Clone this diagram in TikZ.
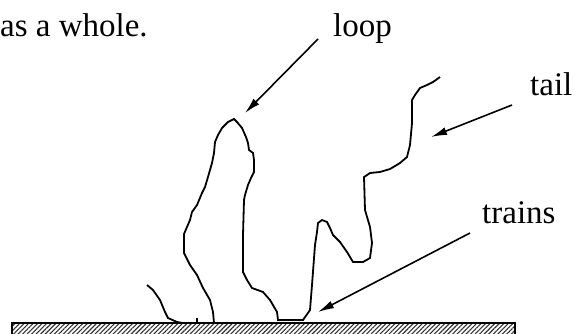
\documentclass[tikz,border=0pt]{standalone}
\usepackage{fontspec}
\setmainfont{Liberation Serif}
\usepackage{tikz}
\usetikzlibrary{arrows.meta, patterns.meta}
\tikzset{>={Latex[width=8pt,length=16pt]}}
\tikzset{
  lbl/.style = {anchor = base west, inner sep = 0pt, font = \fontsize{33}{40}\selectfont},
  chain/.style = {line width = 1.8pt, line join = miter},
  ptr/.style = {->, line width = 1.6pt}
}

\begin{document}
\begin{tikzpicture}[x = 1pt, y = -1pt]
		\useasboundingbox (0,0) rectangle (575,334);
		% labels
		\node (whole) [lbl] at (0,37) {as a whole.};
		\node (loop) [lbl] at (333,37) {loop};
		\node (tail) [lbl] at (530,96) {tail};
		\node (trains) [lbl] at (482,223) {trains};
		% arrow ends
		\coordinate (l0) at (318,39);
		\coordinate (l1) at (245,113);
		\coordinate (t0) at (512,105);
		\coordinate (t1) at (431,137);
		\coordinate (r0) at (470,233);
		\coordinate (r1) at (318,312);
		% surface
		\draw [pattern = {Lines[angle = 45, distance = 3.2pt, line width = 1.1pt]},
			pattern color = black!80, line width = 1.2pt] (12,323) rectangle (515,340);
		% adsorbed chain
		\draw [chain] (147,285) -- (153,290) -- (160,300) -- (165,312) -- (168,318)
			-- (177,322) -- (183,323);
		\draw [chain] (197,318) -- (197,323);
		\draw [chain] (214,323) -- (213,312) -- (210,300) -- (203,288) -- (197,275)
			-- (190,265) -- (184,253) -- (184,234) -- (187,227) -- (190,220)
			-- (192,212) -- (197,205) -- (202,193) -- (205,187) -- (208,177)
			-- (212,163) -- (214,153) -- (215,142) -- (218,135) -- (222,128)
			-- (228,122) -- (234,119) -- (237,122) -- (242,128) -- (246,137)
			-- (248,143) -- (249,150) -- (253,153) -- (254,160) -- (254,172)
			-- (251,178) -- (248,185) -- (245,195) -- (244,200) -- (243,235)
			-- (243,272) -- (247,280) -- (252,288) -- (263,292) -- (270,300)
			-- (277,312) -- (278,320) -- (303,320) -- (310,310) -- (312,285)
			-- (315,245) -- (317,232) -- (318,223) -- (322,220) -- (327,222)
			-- (330,228) -- (333,235) -- (340,242) -- (347,252) -- (353,262)
			-- (363,262) -- (370,258) -- (372,243) -- (370,227) -- (365,210)
			-- (364,177) -- (370,173) -- (380,172) -- (390,169) -- (400,163)
			-- (407,157) -- (410,145) -- (412,123) -- (412,100) -- (415,95)
			-- (420,88) -- (427,85) -- (433,82) -- (440,77);
		% pointers
		\draw [ptr] (l0) -- (l1);
		\draw [ptr] (t0) -- (t1);
		\draw [ptr] (r0) -- (r1);
\end{tikzpicture}
\end{document}
